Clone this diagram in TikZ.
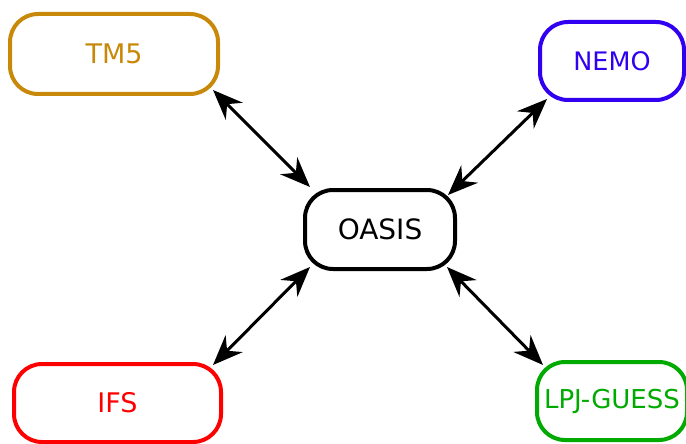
\documentclass[tikz,border=0pt]{standalone}
\usepackage{fontspec}
\setmainfont{DejaVu Sans}
\usetikzlibrary{arrows.meta,calc}
\definecolor{tmcol}{RGB}{200,137,10}
\definecolor{nemocol}{RGB}{50,0,240}
\definecolor{ifscol}{RGB}{255,0,0}
\definecolor{lpjcol}{RGB}{0,170,0}
\tikzset{
  model/.style={draw, line width=4pt, rounded corners=28pt, inner sep=0pt, outer sep=0pt, fill=white},
  link/.style={line width=3pt, {Stealth[length=30pt,width=24pt,inset=10pt]}-{Stealth[length=30pt,width=24pt,inset=10pt]}},
}
\begin{document}
\begin{tikzpicture}[x=1pt,y=-1pt]
\useasboundingbox (0,0) rectangle (686,444);
\node[model, draw=tmcol, text=tmcol, minimum width=208pt, minimum height=80pt, font=\fontsize{27}{30}\selectfont] (tm5) at (114,54) {TM5};
\node[model, draw=nemocol, text=nemocol, minimum width=144pt, minimum height=78pt, font=\fontsize{25.5}{28}\selectfont] (nemo) at (612,61) {NEMO};
\node[model, draw=black, text=black, minimum width=150pt, minimum height=79pt, font=\fontsize{28}{30}\selectfont] (oasis) at (380,229.5) {OASIS};
\node[model, draw=ifscol, text=ifscol, minimum width=207pt, minimum height=78pt, font=\fontsize{27}{30}\selectfont] (ifs) at (117.5,403) {IFS};
\node[model, draw=lpjcol, text=lpjcol, minimum width=150pt, minimum height=78pt, font=\fontsize{26}{28}\selectfont] (lpj) at (612,401) {LPJ-GUESS};
\draw[link] ($(tm5.south east)+(-5,-4)$) -- ($(oasis.north west)+(5,-3)$);
\draw[link] ($(nemo.south west)+(7,-1)$) -- ($(oasis.north east)+(-7,5)$);
\draw[link] ($(ifs.north east)+(-8,1)$) -- ($(oasis.south west)+(5,-2)$);
\draw[link] ($(lpj.north west)+(6,3)$) -- ($(oasis.south east)+(-8,-2)$);
\end{tikzpicture}
\end{document}
